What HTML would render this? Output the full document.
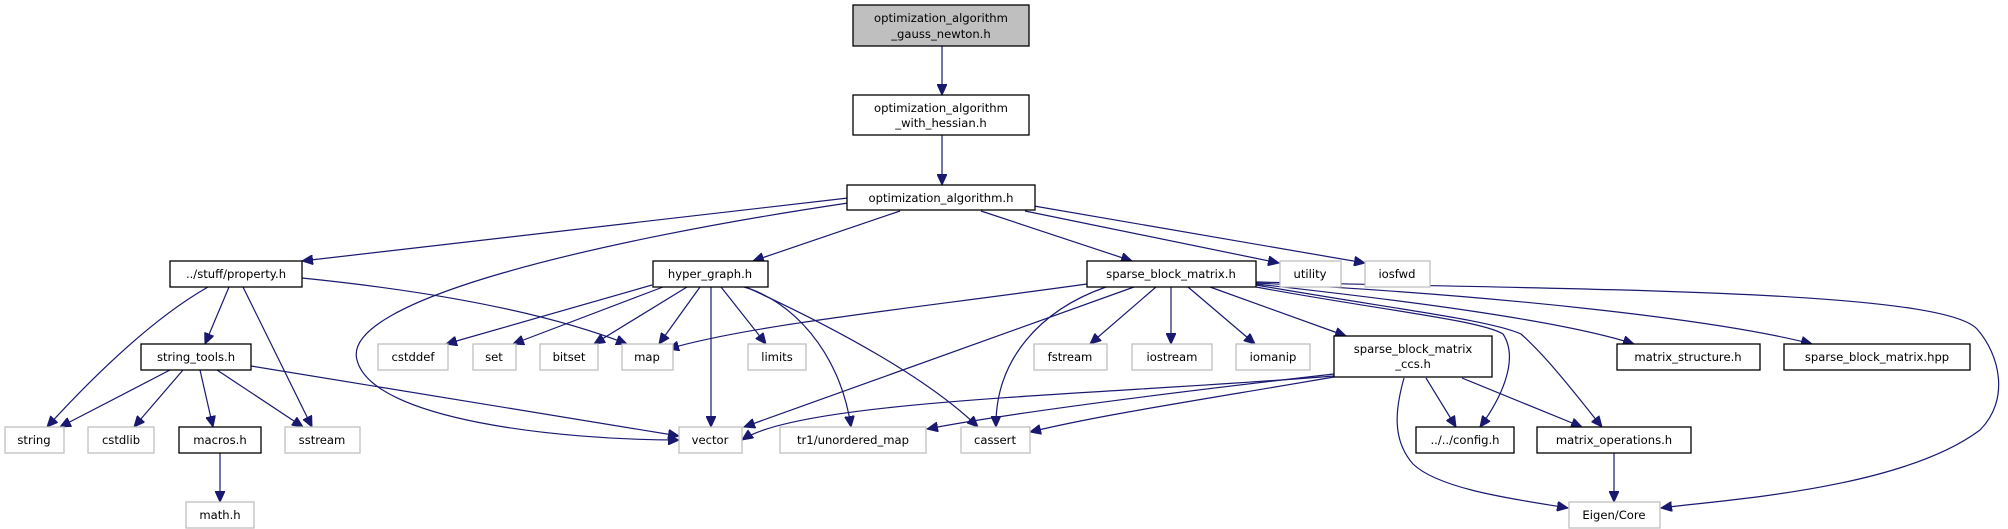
<!DOCTYPE html>
<html><head><meta charset="utf-8"><style>
html,body{margin:0;padding:0;background:#fff;}
svg{display:block;}
text{font-family:"DejaVu Sans","Liberation Sans",sans-serif;font-size:11.6px;fill:#000;text-anchor:middle;}
.e{fill:none;stroke:#191970;stroke-width:1.2;marker-end:url(#a);}
.b{fill:#fff;stroke:#000;stroke-width:1.3;}
.g{fill:#fff;stroke:#bfbfbf;stroke-width:1.3;}
</style></head><body>
<svg width="2008" height="529" viewBox="0 0 2008 529" xmlns="http://www.w3.org/2000/svg">
<defs><marker id="a" markerUnits="userSpaceOnUse" markerWidth="12" markerHeight="10" refX="11" refY="5" orient="auto"><path d="M0,0 L11,5 L0,10 z" fill="#191970" stroke="#191970"/></marker></defs>

<!-- edges -->
<path class="e" d="M942,46 L942,95"/>
<path class="e" d="M942,135 L942,185"/>
<path class="e" d="M848,198 L302,261"/>
<path class="e" d="M848,203 C600,240 340,300 357,360 C372,420 560,440 679,440"/>
<path class="e" d="M900,211 L753,261"/>
<path class="e" d="M981,211 L1132,261"/>
<path class="e" d="M1025,211 L1279,263"/>
<path class="e" d="M1034,206 L1365,263"/>
<path class="e" d="M208,287 C150,320 90,380 47,427"/>
<path class="e" d="M229,287 L205,344"/>
<path class="e" d="M243,287 L312,427"/>
<path class="e" d="M302,278 C420,290 540,310 627,344"/>
<path class="e" d="M170,370 L60,427"/>
<path class="e" d="M183,370 L134,427"/>
<path class="e" d="M200,370 L213,427"/>
<path class="e" d="M217,370 L303,427"/>
<path class="e" d="M251,366 L679,436"/>
<path class="e" d="M220,453 L220,502"/>
<path class="e" d="M652,285 L446,344"/>
<path class="e" d="M663,287 L513,344"/>
<path class="e" d="M687,287 L594,344"/>
<path class="e" d="M700,287 L659,344"/>
<path class="e" d="M711,287 L711,427"/>
<path class="e" d="M721,287 L766,344"/>
<path class="e" d="M744,287 C790,300 840,350 851,427"/>
<path class="e" d="M746,287 C840,330 930,380 978,427"/>
<path class="e" d="M1087,284 C900,310 750,325 668,349"/>
<path class="e" d="M1134,287 L744,427"/>
<path class="e" d="M1106,287 C1040,310 995,360 996,427"/>
<path class="e" d="M1156,287 L1090,344"/>
<path class="e" d="M1171,287 L1171,344"/>
<path class="e" d="M1188,287 L1255,344"/>
<path class="e" d="M1210,287 L1346,336"/>
<path class="e" d="M1256,287 C1380,310 1480,320 1503,334 C1520,360 1500,400 1480,427"/>
<path class="e" d="M1256,285 C1400,310 1490,320 1521,334 C1550,360 1580,400 1602,427"/>
<path class="e" d="M1256,284 C1400,300 1560,320 1634,344"/>
<path class="e" d="M1256,283 C1500,295 1720,320 1812,344"/>
<path class="e" d="M1256,282 C1600,290 1940,290 1977,329 C2000,355 2010,400 1980,430 C1900,490 1720,500 1661,508"/>
<path class="e" d="M1334,376 C1100,395 800,400 742,440"/>
<path class="e" d="M1334,374 C1150,395 1000,415 927,429"/>
<path class="e" d="M1334,377 C1200,400 1100,415 1030,432"/>
<path class="e" d="M1426,378 L1456,427"/>
<path class="e" d="M1462,378 L1582,427"/>
<path class="e" d="M1404,378 C1395,410 1392,440 1413,464 C1440,490 1520,500 1568,508"/>
<path class="e" d="M1614,453 L1614,502"/>

<!-- nodes -->
<rect x="853" y="5" width="176" height="41" fill="#bfbfbf" stroke="#000" stroke-width="1.3"/>
<text x="941" y="22">optimization_algorithm</text><text x="941" y="38">_gauss_newton.h</text>
<rect class="b" x="853" y="95" width="176" height="40"/>
<text x="941" y="112">optimization_algorithm</text><text x="941" y="127">_with_hessian.h</text>
<rect class="b" x="847" y="185" width="188" height="25"/><text x="941" y="202">optimization_algorithm.h</text>

<rect class="b" x="170" y="261" width="132" height="26"/><text x="236" y="278">../stuff/property.h</text>
<rect class="b" x="653" y="261" width="115" height="26"/><text x="710" y="278">hyper_graph.h</text>
<rect class="b" x="1087" y="261" width="169" height="26"/><text x="1171" y="278">sparse_block_matrix.h</text>
<rect class="g" x="1280" y="261" width="61" height="26"/><text x="1310" y="278">utility</text>
<rect class="g" x="1365" y="261" width="65" height="26"/><text x="1397" y="278">iosfwd</text>

<rect class="b" x="141" y="344" width="110" height="26"/><text x="196" y="361">string_tools.h</text>
<rect class="g" x="378" y="344" width="70" height="26"/><text x="413" y="361">cstddef</text>
<rect class="g" x="473" y="344" width="43" height="26"/><text x="494" y="361">set</text>
<rect class="g" x="540" y="344" width="58" height="26"/><text x="569" y="361">bitset</text>
<rect class="g" x="622" y="344" width="51" height="26"/><text x="647" y="361">map</text>
<rect class="g" x="748" y="344" width="58" height="26"/><text x="777" y="361">limits</text>
<rect class="g" x="1034" y="344" width="73" height="26"/><text x="1070" y="361">fstream</text>
<rect class="g" x="1132" y="344" width="80" height="26"/><text x="1172" y="361">iostream</text>
<rect class="g" x="1236" y="344" width="74" height="26"/><text x="1273" y="361">iomanip</text>
<rect class="b" x="1334" y="336" width="158" height="41"/>
<text x="1413" y="353">sparse_block_matrix</text><text x="1413" y="368">_ccs.h</text>
<rect class="b" x="1617" y="344" width="143" height="26"/><text x="1688" y="361">matrix_structure.h</text>
<rect class="b" x="1784" y="344" width="186" height="26"/><text x="1877" y="361">sparse_block_matrix.hpp</text>

<rect class="g" x="5" y="427" width="59" height="26"/><text x="34" y="444">string</text>
<rect class="g" x="88" y="427" width="66" height="26"/><text x="121" y="444">cstdlib</text>
<rect class="b" x="179" y="427" width="82" height="26"/><text x="220" y="444">macros.h</text>
<rect class="g" x="285" y="427" width="75" height="26"/><text x="322" y="444">sstream</text>
<rect class="g" x="679" y="427" width="63" height="26"/><text x="710" y="444">vector</text>
<rect class="g" x="780" y="427" width="146" height="26"/><text x="853" y="444">tr1/unordered_map</text>
<rect class="g" x="961" y="427" width="69" height="26"/><text x="995" y="444">cassert</text>
<rect class="b" x="1416" y="427" width="98" height="26"/><text x="1465" y="444">../../config.h</text>
<rect class="b" x="1537" y="427" width="154" height="26"/><text x="1614" y="444">matrix_operations.h</text>

<rect class="g" x="186" y="502" width="68" height="26"/><text x="220" y="519">math.h</text>
<rect class="g" x="1569" y="502" width="91" height="26"/><text x="1614" y="519">Eigen/Core</text>
</svg>
</body></html>
